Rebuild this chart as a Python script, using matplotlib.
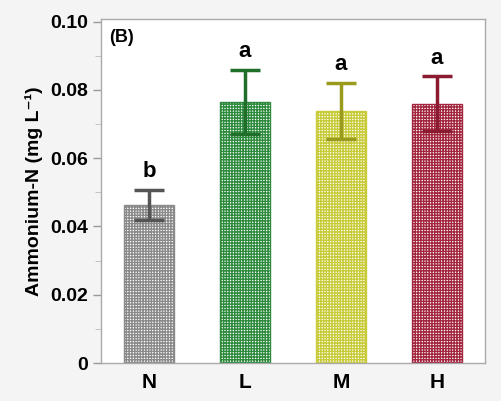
import matplotlib.pyplot as plt
import matplotlib as mpl
from matplotlib.ticker import FixedLocator, FuncFormatter

mpl.rcParams['font.family'] = ['Liberation Sans', 'DejaVu Sans']
mpl.rcParams['font.weight'] = 'bold'
mpl.rcParams['hatch.linewidth'] = 1.0

groups = ['N', 'L', 'M', 'H']
means = [0.0463, 0.0765, 0.0739, 0.0760]
errs = [0.0044, 0.0094, 0.0082, 0.0080]
letters = ['b', 'a', 'a', 'a']

bar_colors = ['#8a8a8a', '#2e8b3e', '#c9cc3a', '#a3263f']
err_colors = ['#555555', '#1f6e2a', '#9a9a1c', '#8a1a30']

fig = plt.figure(figsize=(5.02, 4.01), dpi=100, facecolor='#f4f4f4')
ax = fig.add_axes([101/502, 1 - 363/401, 384/502, 344/401])
ax.set_facecolor('white')

x = range(len(groups))
for i in x:
    ax.bar(i, means[i], width=0.52, color='white', edgecolor=bar_colors[i],
           hatch='++++++', linewidth=1.0, zorder=2)
    ax.errorbar(i, means[i], yerr=errs[i], color=err_colors[i], capsize=11,
                capthick=2.5, elinewidth=2.5, zorder=3)
    ax.text(i, means[i] + errs[i] + 0.0022, letters[i], ha='center', va='bottom',
            fontsize=16, fontweight='bold')

ax.set_xlim(-0.5, 3.5)
ax.set_ylim(0, 0.1008)
ax.set_xticks(list(x))
ax.set_xticklabels(groups, fontsize=15, fontweight='bold')
ax.yaxis.set_major_locator(FixedLocator([0, 0.02, 0.04, 0.06, 0.08, 0.10]))
ax.yaxis.set_minor_locator(FixedLocator([0.01, 0.03, 0.05, 0.07, 0.09]))
ax.yaxis.set_major_formatter(FuncFormatter(lambda v, p: '0' if v == 0 else f'{v:.2f}'))
ax.tick_params(axis='y', labelsize=14, length=6, color='#999999', width=1)
ax.tick_params(axis='y', which='minor', length=4, color='#bbbbbb')
ax.tick_params(axis='x', length=0, pad=7)
for lbl in ax.get_yticklabels():
    lbl.set_fontweight('bold')
for s in ax.spines.values():
    s.set_color('#aaaaaa')
    s.set_linewidth(1)

ax.set_ylabel('Ammonium-N (mg L\u207b\u00b9)', fontsize=14, fontweight='bold', labelpad=5)
ax.text(0.02, 0.97, '(B)', transform=ax.transAxes, ha='left', va='top',
        fontsize=13, fontweight='bold')

fig.savefig('out.png', dpi=100, facecolor=fig.get_facecolor())
